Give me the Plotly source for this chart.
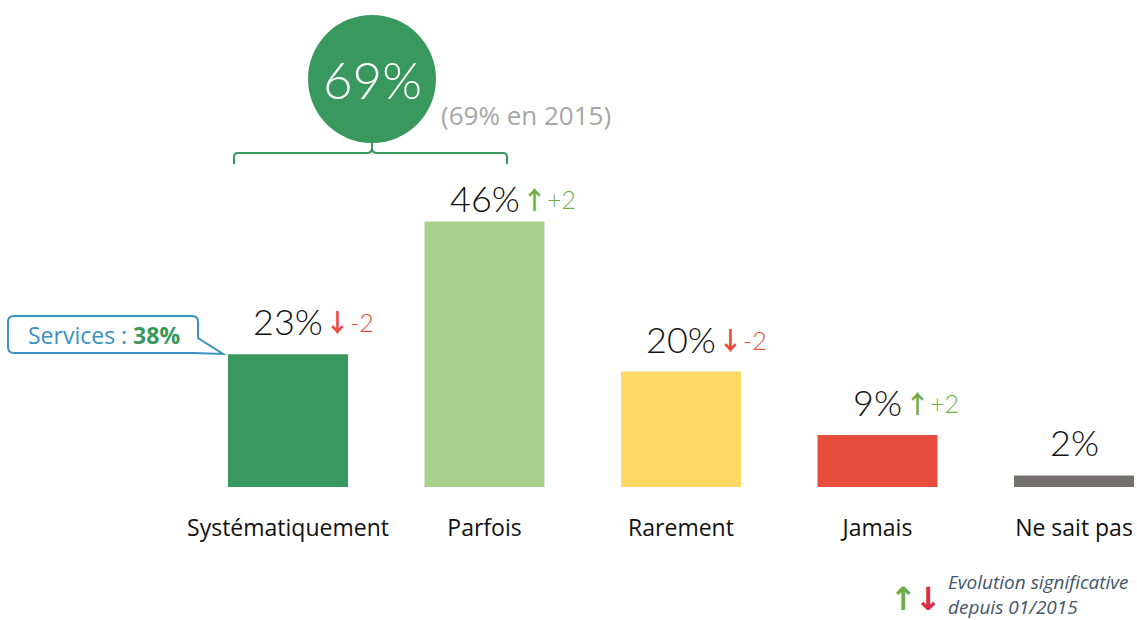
import plotly.graph_objects as go

# ---------------- data ----------------
categories = ["Systématiquement", "Parfois", "Rarement", "Jamais", "Ne sait pas"]
values = [23, 46, 20, 9, 2]
deltas = ["-2", "+2", "-2", "+2", ""]          # significant evolution since 01/2015
bar_colors = ["#38985e", "#a9d18e", "#ffd966", "#e74c3c", "#767171"]
total_label = "69%"
total_2015 = "(69% en 2015)"
callout_label = "Services : "
callout_value = "38%"
legend_lines = ["Evolution significative", "depuis 01/2015"]

# ---------------- geometry (styling) ----------------
W, H = 1137, 620
BASE = 487          # pixel y of bar baseline
X0, DX = 288, 196.5 # pixel x of first category, spacing
PX_PER = 5.77       # pixels per percentage point

def xp(px):
    return px / W

def yp(py):
    return (BASE - py) / BASE

def pt(px, py):
    return f"{xp(px):.5f},{yp(py):.5f}"

NUM_FONT = "Lato, 'DejaVu Sans', sans-serif"
TXT_FONT = "'Open Sans', 'Noto Sans', sans-serif"
ARROW_FONT = "Noto Sans CJK SC"

fig = go.Figure()
fig.add_trace(go.Bar(
    x=categories, y=values, marker=dict(color=bar_colors, line=dict(width=0)),
    width=120 / DX, hoverinfo="skip", showlegend=False,
))

annotations = []
shapes = []

for i, (c, v, d) in enumerate(zip(categories, values, deltas)):
    lab = f"{v}%"
    ys = 24 if i == 1 else 33
    annotations.append(dict(
        x=c, y=v, xref="x", yref="y", text=lab, showarrow=False,
        xanchor="center", yanchor="middle", yshift=ys,
        font=dict(family=NUM_FONT, size=36, color="#111111", weight=300),
    ))
    if d:
        up = d.startswith("+")
        col = "#70ad47" if up else "#e84c3d"
        arrow = "↑" if up else "↓"
        half = (len(lab) - 1) * 0.55 * 36 / 2 + 0.85 * 36 / 2
        annotations.append(dict(
            x=c, y=v, xref="x", yref="y", showarrow=False,
            text=f"<b><span style='font-family:{ARROW_FONT};font-size:25px'>{arrow}</span></b>{d}",
            xanchor="left", yanchor="middle", xshift=half, yshift=ys,
            font=dict(family=NUM_FONT, size=25, color=col, weight=300),
        ))

# big circle with total
shapes.append(dict(type="circle", xref="paper", yref="paper",
                   x0=xp(308), x1=xp(436), y0=yp(143), y1=yp(15),
                   fillcolor="#38985e", line=dict(width=0)))
annotations.append(dict(x=xp(372), y=yp(79), xref="paper", yref="paper",
                        text=total_label, showarrow=False,
                        xanchor="center", yanchor="middle",
                        font=dict(family=NUM_FONT, size=51, color="white", weight=300)))
annotations.append(dict(x=xp(439), y=yp(115), xref="paper", yref="paper",
                        text=total_2015, showarrow=False,
                        xanchor="left", yanchor="middle",
                        font=dict(family=TXT_FONT, size=26, color="#a6a6a6")))

# bracket
bracket = (f"M {pt(234,164)} L {pt(234,157)} Q {pt(234,153)} {pt(238,153)} "
           f"L {pt(367,153)} Q {pt(372,153)} {pt(372,148)} L {pt(372,142)} "
           f"M {pt(372,148)} Q {pt(372,153)} {pt(377,153)} "
           f"L {pt(503,153)} Q {pt(507,153)} {pt(507,157)} L {pt(507,164)}")
shapes.append(dict(type="path", xref="paper", yref="paper", path=bracket,
                   line=dict(color="#38985e", width=2)))

# callout box
r = 6
callout = (f"M {pt(8+r,316)} L {pt(198-r,316)} Q {pt(198,316)} {pt(198,316+r)} "
           f"L {pt(198,338)} L {pt(223,354)} L {pt(193,353)} "
           f"L {pt(8+r,353)} Q {pt(8,353)} {pt(8,353-r)} "
           f"L {pt(8,316+r)} Q {pt(8,316)} {pt(8+r,316)} Z")
shapes.append(dict(type="path", xref="paper", yref="paper", path=callout,
                   fillcolor="white", line=dict(color="#3a92bd", width=2)))
annotations.append(dict(x=xp(104), y=yp(335), xref="paper", yref="paper",
                        text=f"{callout_label}<b><span style='color:#38985e'>{callout_value}</span></b>",
                        showarrow=False, xanchor="center", yanchor="middle",
                        font=dict(family=TXT_FONT, size=23, color="#3a8fbd")))

# legend bottom-right
annotations.append(dict(x=xp(903), y=yp(599), xref="paper", yref="paper", text="<b>↑</b>",
                        showarrow=False, xanchor="center", yanchor="middle",
                        font=dict(family="DejaVu Sans", size=32, color="#70ad47")))
annotations.append(dict(x=xp(928), y=yp(599), xref="paper", yref="paper", text="<b>↓</b>",
                        showarrow=False, xanchor="center", yanchor="middle",
                        font=dict(family="DejaVu Sans", size=32, color="#dc2a44")))
annotations.append(dict(x=xp(946), y=yp(594), xref="paper", yref="paper",
                        text="<i>" + "<br>".join(legend_lines) + "</i>", showarrow=False,
                        xanchor="left", yanchor="middle", align="left",
                        font=dict(family=TXT_FONT, size=19, color="#44546a")))

fig.update_layout(
    width=W, height=H, margin=dict(l=0, r=0, t=0, b=H - BASE),
    paper_bgcolor="white", plot_bgcolor="white",
    xaxis=dict(range=[-X0 / DX, (W - X0) / DX], showgrid=False, zeroline=False,
               showline=False, ticks="outside", ticklen=20,
               tickcolor="rgba(0,0,0,0)",
               tickfont=dict(family=TXT_FONT, size=23, color="#111111")),
    yaxis=dict(range=[0, BASE / PX_PER], visible=False),
    annotations=annotations, shapes=shapes,
)

fig.write_html("out.html", config={"displayModeBar": False},
               post_script="document.body.style.margin='0';")
